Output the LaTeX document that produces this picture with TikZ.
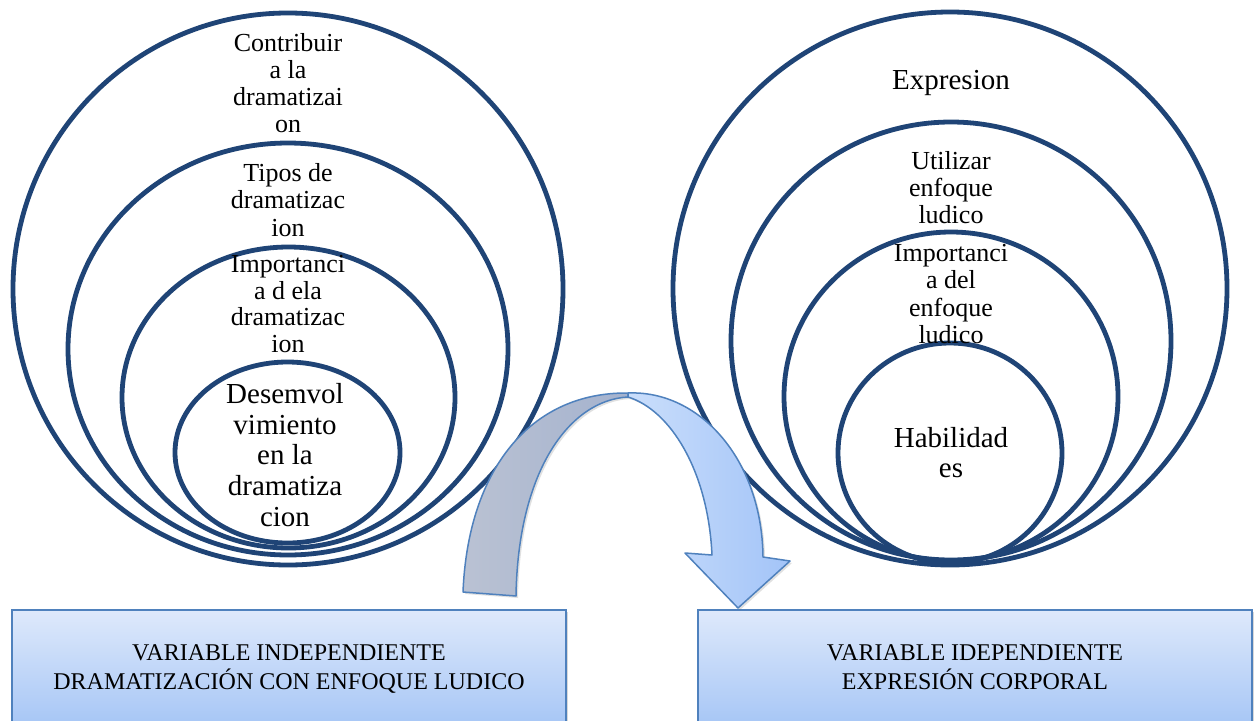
\documentclass[tikz,border=0pt]{standalone}
\usepackage{fontspec}
\setmainfont{Liberation Serif}
\usetikzlibrary{shapes.geometric,shadows}
\definecolor{ringblue}{RGB}{31,68,118}
\definecolor{edgeblue}{RGB}{79,129,189}
\definecolor{boxtop}{RGB}{222,233,251}
\definecolor{boxbot}{RGB}{168,199,246}
\definecolor{foldL}{RGB}{186,194,211}
\definecolor{foldR}{RGB}{164,178,206}
\definecolor{headL}{RGB}{202,222,251}
\definecolor{headR}{RGB}{163,196,248}
\newcommand\setfs[2]{\fontsize{#1}{#2}\selectfont}
\begin{document}
\begin{tikzpicture}[x=1pt,y=-1pt,
  ring/.style={ellipse, draw=ringblue, line width=4.8pt, inner sep=0pt},
  lbl/.style={align=center, inner sep=0pt, text=black,
    execute at begin node=\strut, execute at end node=\strut},
  varbox/.style={rectangle, draw=edgeblue, line width=1.5pt, inner sep=0pt,
    top color=boxtop, bottom color=boxbot, minimum width=554pt, minimum height=112pt,
    drop shadow={shadow xshift=2pt, shadow yshift=-2pt, opacity=0.25, fill=black!60}},
  ribbon/.style={draw=edgeblue, line width=1.5pt, line join=round,
    drop shadow={shadow xshift=2pt, shadow yshift=-2pt, opacity=0.2, fill=black!60}}
]
\useasboundingbox (0,0) rectangle (1260,720);
\clip (0,0) rectangle (1260,720);
\fill[white] (0,0) rectangle (1260,720);

% left nested rings
\node[ring, minimum width=550pt, minimum height=552pt] (L1) at (288,289) {};
\node[ring, minimum width=440pt, minimum height=412pt] (L2) at (288,349) {};
\node[ring, minimum width=333pt, minimum height=301pt] (L3) at (288.5,397.5) {};
\node[ring, minimum width=225pt, minimum height=181pt] (L4) at (287.5,452.5) {};

% right nested rings
\node[ring, minimum width=554pt, minimum height=553pt] (R1) at (950,288.5) {};
\node[ring, minimum width=440pt, minimum height=438pt] (R2) at (951,341) {};
\node[ring, minimum width=334pt, minimum height=329pt] (R3) at (951,396.5) {};
\node[ring, minimum width=224pt, minimum height=220pt] (R4) at (950,453) {};

% left labels
\node[lbl, font=\setfs{26}{27}] (tL1) at (288,87.5) {Contribuir\\a la\\dramatizai\\on};
\node[lbl, font=\setfs{26}{27.5}] (tL2) at (288,204) {Tipos de\\dramatizac\\ion};
\node[lbl, font=\setfs{26}{26.5}] (tL3) at (288,308) {Importanci\\a d ela\\dramatizac\\ion};
\node[lbl, font=\setfs{29}{30.75}] (tL4) at (285,459.4) {Desemvol\\vimiento\\en la\\dramatiza\\cion};

% right labels
\node[lbl, font=\setfs{29}{30}] (tR1) at (951,83.5) {Expresion};
\node[lbl, font=\setfs{26}{27}] (tR2) at (951,192) {Utilizar\\enfoque\\ludico};
\node[lbl, font=\setfs{26}{27.3}] (tR3) at (951,298) {Importanci\\a del\\enfoque\\ludico};
\node[lbl, font=\setfs{29}{30}] (tR4) at (951,457) {Habilidad\\es};

% variable boxes
\node[varbox] (bL) at (289,666) {};
\node[varbox] (bR) at (975,666) {};
\node[lbl, font=\setfs{24}{29}] (tbL) at (289,671) {VARIABLE INDEPENDIENTE\\DRAMATIZACIÓN CON ENFOQUE LUDICO};
\node[lbl, font=\setfs{24}{29}] (tbR) at (975,671) {VARIABLE IDEPENDIENTE\\EXPRESIÓN CORPORAL};

% curved arrow (twisted ribbon)
\path[ribbon, left color=foldL, right color=foldR]
  (463,592) .. controls (468,470) and (530,392) .. (628,393)
  -- (628,397) .. controls (570,400) and (518,470) .. (516,596) -- cycle;
\path[ribbon, left color=headL, right color=headR]
  (628,393) .. controls (700,390) and (762,460) .. (763,557)
  -- (790,561) -- (738,608) -- (685,553) -- (712,555)
  .. controls (708,470) and (670,410) .. (628,397) -- cycle;
\end{tikzpicture}
\end{document}
